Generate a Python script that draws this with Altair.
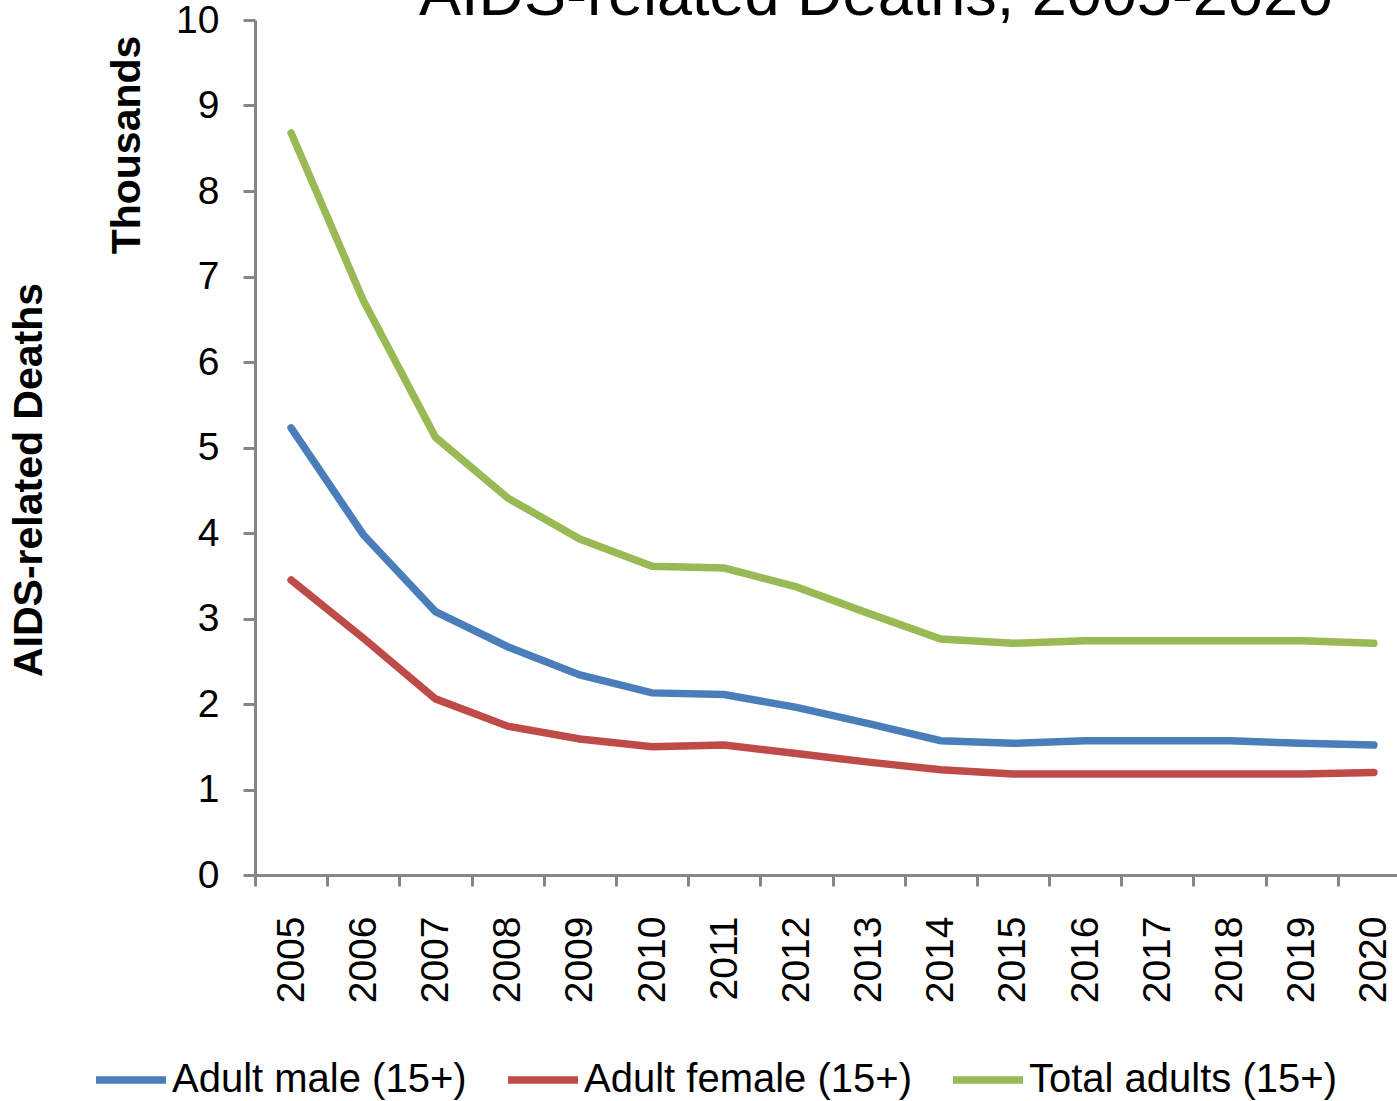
import altair as alt
import pandas as pd

years = [str(y) for y in range(2005, 2021)]
series_names = ["Adult male (15+)", "Adult female (15+)", "Total adults (15+)"]
male = [5.23, 3.98, 3.08, 2.67, 2.34, 2.13, 2.11, 1.96, 1.77, 1.57, 1.54, 1.57, 1.57, 1.57, 1.54, 1.52]
female = [3.45, 2.77, 2.06, 1.74, 1.59, 1.50, 1.52, 1.42, 1.32, 1.23, 1.18, 1.18, 1.18, 1.18, 1.18, 1.20]
total = [8.68, 6.72, 5.12, 4.41, 3.93, 3.61, 3.59, 3.37, 3.06, 2.76, 2.71, 2.74, 2.74, 2.74, 2.74, 2.71]
colors = ["#4A7EBB", "#BE4B48", "#98B954"]

rows = []
for name, vals in zip(series_names, [male, female, total]):
    for y, v in zip(years, vals):
        rows.append({"year": y, "value": v, "series": name})
df = pd.DataFrame(rows)

FONT = "Liberation Sans"
AXIS_COLOR = "#868686"

lines = alt.Chart(df).mark_line(strokeWidth=7.5, strokeCap="round").encode(
    x=alt.X(
        "year:O",
        title=None,
        sort=years,
        scale=alt.Scale(type="band", paddingInner=0, paddingOuter=0, range=[0, 1155]),
        axis=alt.Axis(
            labelAngle=270,
            labelFontSize=39,
            labelFont=FONT,
            labelColor="black",
            labelPadding=30,
            tickBand="extent",
            tickSize=11,
            tickWidth=3,
            tickColor=AXIS_COLOR,
            domainColor=AXIS_COLOR,
            domainWidth=3,
            grid=False,
        ),
    ),
    y=alt.Y(
        "value:Q",
        title=None,
        scale=alt.Scale(domain=[0, 10], nice=False, zero=True),
        axis=alt.Axis(
            values=list(range(0, 11)),
            labelFontSize=39,
            labelFont=FONT,
            labelColor="black",
            labelPadding=24,
            tickSize=12,
            tickWidth=3,
            tickColor=AXIS_COLOR,
            domainColor=AXIS_COLOR,
            domainWidth=3,
            grid=False,
        ),
    ),
    color=alt.Color(
        "series:N",
        sort=series_names,
        scale=alt.Scale(domain=series_names, range=colors),
        legend=alt.Legend(
            title=None,
            orient="none",
            direction="horizontal",
            legendX=-163,
            legendY=1021,
            symbolType="stroke",
            symbolSize=4900,
            symbolStrokeWidth=7.5,
            labelFontSize=40,
            labelFont=FONT,
            labelColor="black",
            labelOffset=2,
            labelLimit=0,
            columnPadding=26,
        ),
    ),
)

title_text = alt.Chart(pd.DataFrame({"t": ["AIDS-related Deaths, 2005-2020"]})).mark_text(
    fontSize=63, font=FONT, color="black", align="center", baseline="alphabetic"
).encode(text="t:N", x=alt.value(621), y=alt.value(-5))

thousands = alt.Chart(pd.DataFrame({"t": ["Thousands"]})).mark_text(
    fontSize=41, font=FONT, fontWeight="bold", color="black", align="center",
    baseline="middle", angle=270
).encode(text="t:N", x=alt.value(-127), y=alt.value(125))

ytitle = alt.Chart(pd.DataFrame({"t": ["AIDS-related Deaths"]})).mark_text(
    fontSize=41, font=FONT, fontWeight="bold", color="black", align="center",
    baseline="middle", angle=270
).encode(text="t:N", x=alt.value(-225), y=alt.value(460))

chart = alt.layer(lines, title_text, thousands, ytitle).properties(
    width=1142,
    height=855,
    autosize=alt.AutoSizeParams(type="none"),
    padding={"left": 255, "top": 20, "right": 0, "bottom": 226},
    background="white",
).configure_view(stroke=None)

chart.save("out.html", embed_options={"renderer": "svg", "actions": False})
